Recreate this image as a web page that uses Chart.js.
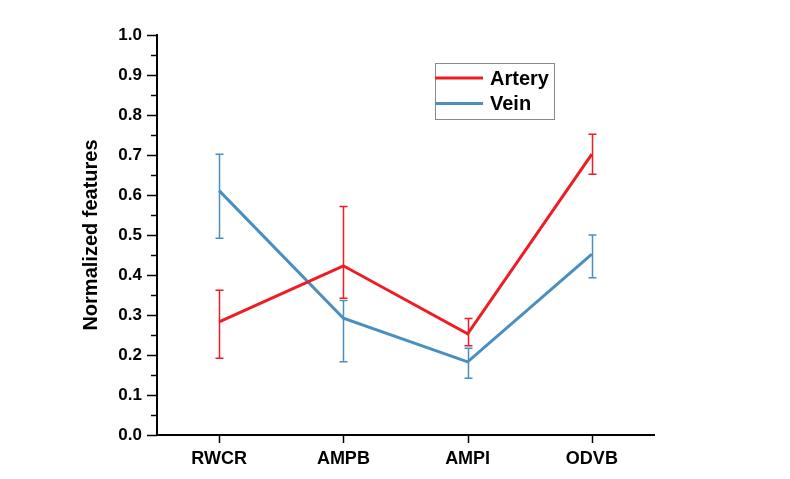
<!DOCTYPE html>
<html>
<head>
<meta charset="utf-8">
<script src="https://cdn.jsdelivr.net/npm/chart.js@4"></script>
<style>
  html, body { margin: 0; padding: 0; background: #fff; }
  #wrap { width: 790px; height: 479px; }
</style>
</head>
<body>
<div id="wrap"><canvas id="featureChart"></canvas></div>
<script>
const categories = ['RWCR', 'AMPB', 'AMPI', 'ODVB'];

const arteryValues = [0.283, 0.423, 0.253, 0.702];
const arteryUpper = [0.362, 0.571, 0.291, 0.752];
const arteryLower = [0.192, 0.342, 0.223, 0.652];

const veinValues = [0.611, 0.292, 0.183, 0.452];
const veinUpper = [0.702, 0.336, 0.217, 0.500];
const veinLower = [0.492, 0.183, 0.142, 0.393];

const yTicks = [0, 0.1, 0.2, 0.3, 0.4, 0.5, 0.6, 0.7, 0.8, 0.9, 1.0];

const RED = '#ee1c24';
const BLUE = '#4a8fc0';
const FONT = 'Liberation Sans, Arial, sans-serif';

// error bars, drawn from the arrays above through the scales
const errorBars = {
    id: 'errorBars',
    afterDatasetsDraw(chart) {
        const ctx = chart.ctx;
        const x = chart.scales.x, y = chart.scales.y;
        chart.data.datasets.forEach(ds => {
            ctx.save();
            ctx.strokeStyle = ds.borderColor;
            ctx.lineWidth = 1.5;
            ds.upper.forEach((hi, i) => {
                const px = Math.round(x.getPixelForValue(i)) + 0.5;
                const top = y.getPixelForValue(hi);
                const bot = y.getPixelForValue(ds.lower[i]);
                ctx.beginPath();
                ctx.moveTo(px, top); ctx.lineTo(px, bot);
                ctx.moveTo(px - 4, top); ctx.lineTo(px + 4, top);
                ctx.moveTo(px - 4, bot); ctx.lineTo(px + 4, bot);
                ctx.stroke();
            });
            ctx.restore();
        });
    }
};

// outward tick marks (major + minor) like the original plot
const tickMarks = {
    id: 'tickMarks',
    afterDraw(chart) {
        const ctx = chart.ctx;
        const x = chart.scales.x, y = chart.scales.y;
        const area = chart.chartArea;
        ctx.save();
        ctx.strokeStyle = '#000';
        ctx.lineWidth = 1.5;
        ctx.beginPath();
        for (let v = 0; v <= 1.0001; v += 0.05) {
            const py = Math.round(y.getPixelForValue(v)) + 0.5;
            const major = Math.round(v * 100) % 10 === 0;
            ctx.moveTo(area.left, py);
            ctx.lineTo(area.left - (major ? 10 : 6), py);
        }
        categories.forEach((c, i) => {
            const px = Math.round(x.getPixelForValue(i)) + 0.5;
            ctx.moveTo(px, area.bottom);
            ctx.lineTo(px, area.bottom + 8);
        });
        ctx.stroke();
        ctx.restore();
    }
};

// boxed legend inside the plot
const boxLegend = {
    id: 'boxLegend',
    afterDraw(chart) {
        const ctx = chart.ctx;
        const left = 435, top = 63, w = 119, h = 56;
        ctx.save();
        ctx.strokeStyle = '#8a8a8a';
        ctx.lineWidth = 1;
        ctx.strokeRect(left + 0.5, top + 0.5, w, h);
        ctx.font = 'bold 20px ' + FONT;
        ctx.textBaseline = 'middle';
        ctx.fillStyle = '#000';
        chart.data.datasets.forEach((ds, i) => {
            const ly = top + 15 + i * 25.6;
            ctx.strokeStyle = ds.borderColor;
            ctx.lineWidth = 3;
            ctx.beginPath();
            ctx.moveTo(left, ly); ctx.lineTo(left + 48, ly);
            ctx.stroke();
            ctx.fillText(ds.label, left + 55, ly + 1);
        });
        ctx.restore();
    }
};

const ctx = document.getElementById('featureChart').getContext('2d');

new Chart(ctx, {
    type: 'line',
    data: {
        labels: categories,
        datasets: [{
            label: 'Artery',
            data: arteryValues,
            upper: arteryUpper,
            lower: arteryLower,
            borderColor: RED,
            borderWidth: 3,
            pointRadius: 0,
            tension: 0,
            fill: false
        }, {
            label: 'Vein',
            data: veinValues,
            upper: veinUpper,
            lower: veinLower,
            borderColor: BLUE,
            borderWidth: 3,
            pointRadius: 0,
            tension: 0,
            fill: false
        }]
    },
    options: {
        responsive: true,
        maintainAspectRatio: false,
        animation: false,
        layout: {
            padding: { left: 0, right: 136, top: 35, bottom: 0 }
        },
        scales: {
            x: {
                offset: true,
                grid: { display: false, drawTicks: false },
                border: { display: true, color: '#000', width: 2 },
                ticks: {
                    color: '#000',
                    padding: 13,
                    font: { family: FONT, size: 18, weight: 'bold' }
                },
                afterFit(scale) { scale.height = 44; }
            },
            y: {
                min: 0,
                max: 1,
                afterBuildTicks(scale) {
                    scale.ticks = yTicks.map(v => ({ value: v }));
                },
                grid: { display: false, drawTicks: false },
                border: { display: true, color: '#000', width: 2 },
                ticks: {
                    color: '#000',
                    padding: 15,
                    font: { family: FONT, size: 17, weight: 'bold' },
                    callback: v => Number(v).toFixed(1)
                },
                title: {
                    display: true,
                    text: 'Normalized features',
                    color: '#000',
                    padding: { top: 79, bottom: 0 },
                    font: { family: FONT, size: 20, weight: 'bold' }
                },
                afterFit(scale) { scale.width = 157; }
            }
        },
        plugins: {
            legend: { display: false },
            tooltip: { enabled: false }
        }
    },
    plugins: [errorBars, tickMarks, boxLegend]
});
</script>
</body>
</html>
